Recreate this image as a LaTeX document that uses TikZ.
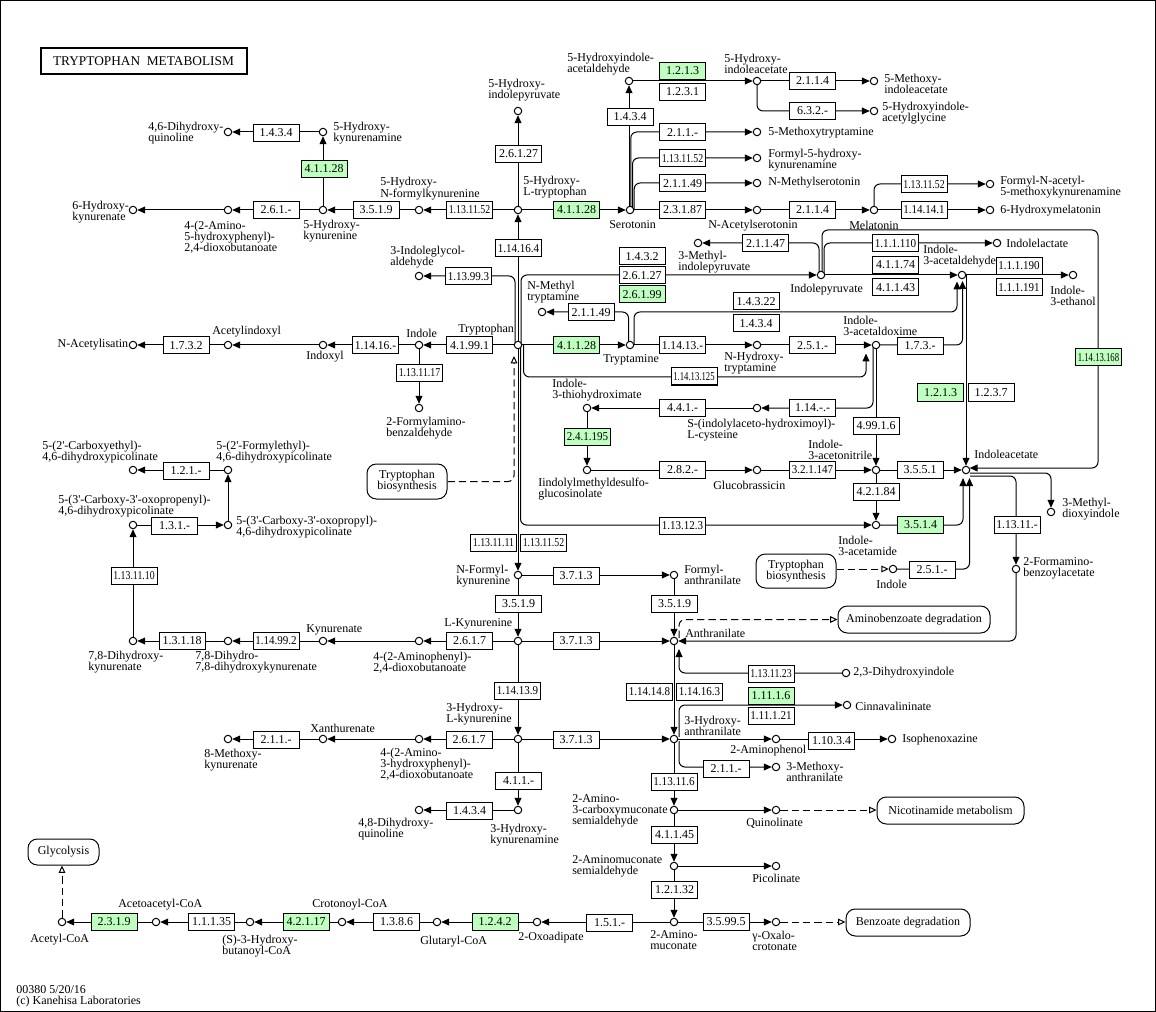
\documentclass[tikz,border=0pt]{standalone}
\usepackage{fontspec}
\setmainfont{Liberation Serif}
\usepackage{graphicx}
\usetikzlibrary{arrows.meta,calc}
\definecolor{kg}{RGB}{191,255,191}
\newcommand\lblfont{\fontsize{9}{8.25}\selectfont}
\newcommand\ecfit[1]{\sbox0{#1}\ifdim\wd0>31pt\pgfmathsetmacro\ecr{31/\the\wd0}\scalebox{\ecr}[1]{#1}\else#1\fi}
\newcommand\ecn[4][ecbox]{\node[#1] (#2) at (#3) {\ecfit{#4}};}
\pgfdeclarelayer{bg}
\pgfsetlayers{bg,main}
\tikzset{
 cpd/.style={circle,draw,fill=white,minimum size=5.6pt,inner sep=0pt,line width=0.75pt},
 ecbox/.style={draw,fill=white,minimum width=34.5pt,minimum height=12.75pt,inner sep=0pt,line width=0.75pt,font=\lblfont},
 ecg/.style={ecbox,fill=kg},
 lab/.style={inner sep=0pt,align=left,font=\lblfont},
 mapbox/.style={draw,fill=white,rounded corners=7pt,inner sep=0pt,align=center,font=\lblfont,line width=0.75pt},
 conn/.style={line width=0.75pt},
 arr/.style={conn,-{Triangle[length=6pt,width=5.2pt]}},
 rc/.style={rounded corners=4.5pt},
 dsh/.style={conn,dash pattern=on 5.5pt off 3pt,-{Triangle[open,length=5.5pt,width=5pt]}},
}
\begin{document}
\begin{tikzpicture}[x=0.75pt,y=-0.75pt]
\useasboundingbox (0,0) rectangle (1156,1012);
\draw[line width=0.75pt] (0.5,0.5) rectangle (1155.5,1011);
\node[draw,line width=1.5pt,minimum width=154.5pt,minimum height=19.5pt,inner sep=0pt,font=\fontsize{10}{12}\selectfont] (title) at (143.5,61) {TRYPTOPHAN\ \ METABOLISM};

% compounds
\foreach \n/\x/\y in {c46dhq/228/132,c5hkna/323/132,c6hk/133/210,c4a5h/228/210,c5hk/323/210,c5hnfk/419/210,c5htp/518/210,c5hip/518/111,cser/630/210,c5hiald/629/81,c5hiaa/757/81,c5mia/874/81,c5hiag/874/111,c5mt/757/132,cf5hk/757/158,cnms/757/183,cnas/757/210,cmel/874/210,cfnam/990/184,c6hm/990/210,c3mip/698/243,cipa/821/275,cila/997/243,ciald/962/275,cieth/1073/275,cigly/419/276,cnmt/542/312,ctrp/518/345,cindole/419/345,cindoxyl/323/345,cacind/228/345,cnai/133/345,cfab/419/408,ctam/630/345,cnht/757/345,ciaox/876/345,csic/757/408,cith/587/408,cimdg/587/470,cgb/757/470,cian/876/470,ciam/876/525,ciaa/966/470,cmdi/1051/512,cind2/893/569,cfba/1016/569,c2ce/133/470,c2fe/228/470,c3cop/133/525,c3copl/228/525,cnfk/518/575,cfa/674/575,clk/518/641,cant/674/641,c4a/419/641,ckyn/323/641,c78dh/228/641,c78dhk/133/641,chk/518/739,chaa/674/739,c4a3h/419/739,cxan/323/739,c8mk/228/739,chkna/518/810,c48dq/419/810,cdhi/846/673,ccin/847/705,camp/776/739,ciso/892/739,cman/776/767,cacms/674/810,cquin/776/810,cams/674/866,cpic/776/866,cam/674/922,cgoc/776/922,coxo/537/922,cglu/437/922,ccro/342/922,chbc/250/922,caac/156/922,cacoa/62/922}
  \node[cpd] (\n) at (\x,\y) {};

% maps
\node[mapbox,minimum width=60pt,minimum height=26.25pt] (mtrpbio1) at (407,481.5) {Tryptophan\\biosynthesis};
\node[mapbox,minimum width=60pt,minimum height=25.5pt] (mtrpbio2) at (796,571) {Tryptophan\\biosynthesis};
\node[mapbox,minimum width=114pt,minimum height=20.25pt] (mabd) at (914,619.5) {Aminobenzoate degradation};
\node[mapbox,minimum width=110.25pt,minimum height=20.25pt] (mnic) at (950.5,810.5) {Nicotinamide metabolism};
\node[mapbox,minimum width=93pt,minimum height=20.25pt] (mbenz) at (908,922.5) {Benzoate degradation};
\node[mapbox,minimum width=53.25pt,minimum height=19.5pt] (mgly) at (63.5,852) {Glycolysis};

\coordinate (loopTR) at (1098,230);
\coordinate (t312) at (957,312);

\begin{pgfonlayer}{bg}
\draw[arr] (c5hkna) -- (c46dhq);
\draw[arr] (c5hk) -- (c5hkna);
\draw[arr] (c5htp) -- (c5hnfk);
\draw[arr] (c5hnfk) -- (c5hk);
\draw[arr] (c5hk) -- (c4a5h);
\draw[arr] (c4a5h) -- (c6hk);
\draw[arr] (c5htp) -- (c5hip);
\draw[arr] (ctrp) -- (c5htp);
\draw[arr] (c5htp) -- (cser);
\draw[arr] ($(cser)+(-1,0)$) -- (c5hiald.south);
\draw[arr] (c5hiald) -- (c5hiaa);
\draw[arr] (c5hiaa) -- (c5mia);
\draw[arr,rc] (c5hiaa) |- (c5hiag);
\draw[arr,rc] ($(cser)+(0.8,0)$) |- (c5mt);
\draw[arr,rc] ($(cser)+(2.5,0)$) |- (cf5hk);
\draw[arr,rc] ($(cser)+(4.2,0)$) |- (cnms);
\draw[arr] (cser) -- (cnas);
\draw[arr] (cnas) -- (cmel);
\draw[arr,rc] (cmel) |- (cfnam);
\draw[arr] (cmel) -- (c6hm);
% indolepyruvate
\draw[arr,rc] ($(ctrp)+(3,0)$) |- (cipa);
\draw[arr,rc] ($(ctrp)+(-3,0)$) |- (cigly);
\draw[arr,rc] ($(cipa)+(-2,0)$) |- (c3mip);
\draw[arr,rc] ($(cipa)+(1,0)$) |- (loopTR) |- ($(ciaa)+(3.6,-2)$);
\draw[arr,rc] ($(cipa)+(3,0)$) |- (cila);
\draw[arr] (cipa) -- (ciald);
\draw[arr] (ciald) -- (cieth);
\draw[arr] ($(ciald)+(4,0)$) -- (ciaa.north);
\draw[arr,rc] ($(ctam)+(4,0)$) |- (t312) -- ($(ciald)+(-5,6.5)$);
\draw[arr,rc] (ciaox) -| ($(ciald)+(0.5,6)$);
\draw[arr,rc] ($(ctam)+(-1.5,0)$) |- (cnmt);
% tryptophan
\draw[arr] (ctrp) -- (cindole);
\draw[arr] (cindole) -- (cindoxyl);
\draw[arr] (cindoxyl) -- (cacind);
\draw[arr] (cacind) -- (cnai);
\draw[arr] (cindole) -- (cfab);
\draw[arr] (ctrp) -- (ctam);
\draw[arr] (ctam) -- (cnht);
\draw[arr] (cnht) -- (ciaox);
\draw[arr,rc] ($(ctrp)+(5.5,0)$) |- ($(ciaox)+(-10,32)$) -- ($(ciaox)+(-10,8.5)$);
\draw[arr,rc] ($(ctrp)+(2.5,0)$) |- (ciam);
\draw[arr] (ctrp) -- (cnfk);
\draw[dsh,rc] (mtrpbio1.east) -| ($(ctrp)+(-4,11)$);
% indole-3 compounds
\draw[arr,rc] ($(ciaox)+(-3,0)$) |- (csic);
\draw[arr] (ciaox) -- (cian);
\draw[arr] (csic) -- (cith);
\draw[arr] (cith) -- (cimdg);
\draw[arr] (cimdg) -- (cgb);
\draw[arr] (cgb) -- (cian);
\draw[arr] (cian) -- (ciaa);
\draw[arr] (cian) -- (ciam);
\draw[arr,rc] (ciam) -| ($(ciaa)+(-3,8)$);
\draw[arr,rc] (cind2) -| ($(ciaa)+(3.5,8)$);
\draw[dsh] (mtrpbio2.east |- cind2) -- (cind2);
\draw[arr,rc] ($(ciaa)+(4,3)$) -| (cmdi);
\draw[arr,rc] ($(ciaa)+(4,6)$) -| (cfba);
% kynurenine
\draw[arr] (cnfk) -- (cfa);
\draw[arr] (cnfk) -- (clk);
\draw[arr] (cfa) -- (cant);
\draw[arr] (clk) -- (cant);
\draw[arr] (clk) -- (c4a);
\draw[arr] (c4a) -- (ckyn);
\draw[arr] (ckyn) -- (c78dh);
\draw[arr] (c78dh) -- (c78dhk);
\draw[arr] (c78dhk) -- (c3cop);
\draw[arr] (c3cop) -- (c3copl);
\draw[arr] (c3copl) -- (c2fe);
\draw[arr] (c2fe) -- (c2ce);
\draw[arr] (clk) -- (chk);
\draw[arr] (chk) -- (chaa);
\draw[arr] (chk) -- (c4a3h);
\draw[arr] (c4a3h) -- (cxan);
\draw[arr] (cxan) -- (c8mk);
\draw[arr] (chk) -- (chkna);
\draw[arr] (chkna) -- (c48dq);
% anthranilate
\draw[dsh,rc] ($(cant)+(5,-3)$) |- (mabd.west);
\draw[arr,rc] (cfba) |- (cant);
\draw[arr,rc] (cdhi) -| ($(cant)+(5,8)$);
\draw[arr] (cant) -- (chaa);
\draw[arr,rc] ($(chaa)+(5,-2)$) |- (ccin);
\draw[arr] (chaa) -- (camp);
\draw[arr] (camp) -- (ciso);
\draw[arr,rc] ($(chaa)+(5,2)$) |- (cman);
\draw[arr] (chaa) -- (cacms);
\draw[arr] (cacms) -- (cquin);
\draw[dsh] (cquin) -- (mnic.west |- cquin);
\draw[arr] (cacms) -- (cams);
\draw[arr] (cams) -- (cpic);
\draw[arr] (cams) -- (cam);
\draw[arr] (cam) -- (cgoc);
\draw[dsh] (cgoc) -- (mbenz.west |- cgoc);
\draw[arr] (cam) -- (coxo);
\draw[arr] (coxo) -- (cglu);
\draw[arr] (cglu) -- (ccro);
\draw[arr] (ccro) -- (chbc);
\draw[arr] (chbc) -- (caac);
\draw[arr] (caac) -- (cacoa);
\draw[dsh] (cacoa) -- (mgly.south -| cacoa);
\end{pgfonlayer}

% enzymes
\ecn{e1434a}{276,133}{1.4.3.4}
\ecn[ecg]{e41128a}{324,169}{4.1.1.28}
\ecn{e261a}{276,210}{2.6.1.-}
\ecn{e3519a}{376,210}{3.5.1.9}
\ecn{e1131152a}{469.5,210}{1.13.11.52}
\ecn{e26127a}{518.5,154}{2.6.1.27}
\ecn{e114164}{518.5,248.5}{1.14.16.4}
\ecn[ecg]{e41128b}{576.5,210}{4.1.1.28}
\ecn{e1434b}{630,117}{1.4.3.4}
\ecn[ecg]{e1213a}{682.5,71}{1.2.1.3}
\ecn{e1231}{682.5,92}{1.2.3.1}
\ecn{e2114a}{812.5,81}{2.1.1.4}
\ecn{e632}{812.5,111}{6.3.2.-}
\ecn{e211a}{682.5,132.5}{2.1.1.-}
\ecn{e1131152b}{682.5,158.5}{1.13.11.52}
\ecn{e21149a}{682.5,183.5}{2.1.1.49}
\ecn{e23187}{682.5,210}{2.3.1.87}
\ecn{e2114b}{812.5,210}{2.1.1.4}
\ecn{e1131152c}{924,184.5}{1.13.11.52}
\ecn{e114141}{924,210}{1.14.14.1}
\ecn{e21147}{765.5,243.5}{2.1.1.47}
\ecn{e111110}{895.5,243.5}{1.1.1.110}
\ecn{e41174}{895.5,265}{4.1.1.74}
\ecn{e41143}{895.5,287.5}{4.1.1.43}
\ecn{e111190}{1019,266}{1.1.1.190}
\ecn{e111191}{1019,287.5}{1.1.1.191}
\ecn{e1432}{642,256.5}{1.4.3.2}
\ecn{e26127b}{642,275.5}{2.6.1.27}
\ecn[ecg]{e26199}{642,294.5}{2.6.1.99}
\ecn{e113993}{468.5,276.5}{1.13.99.3}
\ecn{e21149b}{591,312.5}{2.1.1.49}
\ecn{e14322}{756,301.5}{1.4.3.22}
\ecn{e1434c}{756,323.5}{1.4.3.4}
\ecn[ecg]{e41128c}{576.5,345.5}{4.1.1.28}
\ecn{e11413}{682.5,345.5}{1.14.13.-}
\ecn{e251a}{812.5,345.5}{2.5.1.-}
\ecn{e173}{920,346}{1.7.3.-}
\ecn{e1141312}{694,376.5}{1.14.13.125}
\ecn[ecg]{e1141316}{1098.5,357.5}{1.14.13.168}
\ecn[ecg]{e1213b}{940.5,392.5}{1.2.1.3}
\ecn{e1237}{991,392.5}{1.2.3.7}
\ecn{e114}{812.5,408}{1.14.-.-}
\ecn{e441}{682.5,408}{4.4.1.-}
\ecn[ecg]{e241195}{587.5,437}{2.4.1.195}
\ecn{e282}{682.5,470}{2.8.2.-}
\ecn{e321147}{812.5,470}{3.2.1.147}
\ecn{e49916}{876,425.5}{4.99.1.6}
\ecn{e3551}{920,470}{3.5.5.1}
\ecn{e42184}{876,492}{4.2.1.84}
\ecn{e13123}{682.5,526}{1.13.12.3}
\ecn[ecg]{e3514}{920.5,525}{3.5.1.4}
\ecn{e251b}{932,570}{2.5.1.-}
\ecn{e13111}{1017,525}{1.13.11.-}
\ecn{e41991}{469.5,345.5}{4.1.99.1}
\ecn{e11416}{375.5,345.5}{1.14.16.-}
\ecn{e1732}{186,345.5}{1.7.3.2}
\ecn{e131117}{419.5,373}{1.13.11.17}
\ecn{e131111}{493.5,543}{1.13.11.11}
\ecn{e1131152d}{543.5,543}{1.13.11.52}
\ecn{e3713a}{576,575.5}{3.7.1.3}
\ecn{e3519b}{518.5,603.5}{3.5.1.9}
\ecn{e3519c}{674.5,603.5}{3.5.1.9}
\ecn{e3713b}{576,641}{3.7.1.3}
\ecn{e2617a}{469.5,641}{2.6.1.7}
\ecn{e114992}{276,641}{1.14.99.2}
\ecn{e13118}{182,640.5}{1.3.1.18}
\ecn{e131110}{134,575.5}{1.13.11.10}
\ecn{e131}{174.5,525.5}{1.3.1.-}
\ecn{e121}{186,471}{1.2.1.-}
\ecn{e114139}{517.5,691}{1.14.13.9}
\ecn{e3713c}{576,740}{3.7.1.3}
\ecn{e2617b}{469,740}{2.6.1.7}
\ecn{e211b}{276,740}{2.1.1.-}
\ecn{e411}{518.5,780.5}{4.1.1.-}
\ecn{e1434d}{469.5,811}{1.4.3.4}
\ecn{e1131123}{771,673.5}{1.13.11.23}
\ecn{e114148}{649.5,692}{1.14.14.8}
\ecn{e114163}{699.5,692}{1.14.16.3}
\ecn[ecg]{e11116}{771,695.5}{1.11.1.6}
\ecn{e111121}{771,716}{1.11.1.21}
\ecn{e11034}{831.5,740.5}{1.10.3.4}
\ecn{e211c}{726,768.5}{2.1.1.-}
\ecn{e131116}{674,781.5}{1.13.11.6}
\ecn{e41145}{674.5,835}{4.1.1.45}
\ecn{e12132}{674.5,890}{1.2.1.32}
\ecn{e35995}{726,922}{3.5.99.5}
\ecn{e151}{609.5,922.5}{1.5.1.-}
\ecn[ecg]{e1242}{495,922}{1.2.4.2}
\ecn{e1386}{396.5,922}{1.3.8.6}
\ecn[ecg]{e42117}{306,922}{4.2.1.17}
\ecn{e11135}{211.5,922}{1.1.1.35}
\ecn[ecg]{e2319}{114,922}{2.3.1.9}

% labels
\node[lab,anchor=west] (t1) at (148,133) {4,6-Dihydroxy-\\quinoline};
\node[lab,anchor=west] (t2) at (333,133) {5-Hydroxy-\\kynurenamine};
\node[lab,anchor=west] (t3) at (72,212.5) {6-Hydroxy-\\kynurenate};
\node[lab,anchor=west] (t4) at (184,237) {4-(2-Amino-\\5-hydroxyphenyl)-\\2,4-dioxobutanoate};
\node[lab,anchor=west] (t5) at (303,231) {5-Hydroxy-\\kynurenine};
\node[lab,anchor=west] (t6) at (380,188.5) {5-Hydroxy-\\N-formylkynurenine};
\node[lab,anchor=west] (t7) at (523,187.5) {5-Hydroxy-\\L-tryptophan};
\node[lab,anchor=west] (t8) at (488,90.5) {5-Hydroxy-\\indolepyruvate};
\node[lab,anchor=west] (t9) at (609,225) {Serotonin};
\node[lab,anchor=west] (t10) at (567,64) {5-Hydroxyindole-\\acetaldehyde};
\node[lab,anchor=west] (t11) at (724,63.5) {5-Hydroxy-\\indoleacetate};
\node[lab,anchor=west] (t12) at (884,84) {5-Methoxy-\\indoleacetate};
\node[lab,anchor=west] (t13) at (882,113.5) {5-Hydroxyindole-\\acetylglycine};
\node[lab,anchor=west] (t14) at (768,133) {5-Methoxytryptamine};
\node[lab,anchor=west] (t15) at (768,160.5) {Formyl-5-hydroxy-\\kynurenamine};
\node[lab,anchor=west] (t16) at (768,183) {N-Methylserotonin};
\node[lab,anchor=west] (t17) at (708,226) {N-Acetylserotonin};
\node[lab,anchor=west] (t18) at (849,225) {Melatonin};
\node[lab,anchor=west] (t19) at (1000,187) {Formyl-N-acetyl-\\5-methoxykynurenamine};
\node[lab,anchor=west] (t20) at (1000,211) {6-Hydroxymelatonin};
\node[lab,anchor=west] (t21) at (678,262.5) {3-Methyl-\\indolepyruvate};
\node[lab,anchor=west] (t22) at (790,290) {Indolepyruvate};
\node[lab,anchor=west] (t23) at (1006,243) {Indolelactate};
\node[lab,anchor=west] (t24) at (923,256) {Indole-\\3-acetaldehyde};
\node[lab,anchor=west] (t25) at (1050,296) {Indole-\\3-ethanol};
\node[lab,anchor=west] (t26) at (390,257) {3-Indoleglycol-\\aldehyde};
\node[lab,anchor=west] (t27) at (527,292.5) {N-Methyl\\tryptamine};
\node[lab,anchor=west] (t28) at (458,330) {Tryptophan};
\node[lab,anchor=west] (t29) at (406,333) {Indole};
\node[lab,anchor=west] (t30) at (212,332) {Acetylindoxyl};
\node[lab,anchor=east] (t31) at (128.5,345) {N-Acetylisatin};
\node[lab,anchor=west] (t32) at (306,357) {Indoxyl};
\node[lab,anchor=west] (t33) at (386,428.5) {2-Formylamino-\\benzaldehyde};
\node[lab,anchor=west] (t34) at (603,360) {Tryptamine};
\node[lab,anchor=west] (t35) at (724,363.5) {N-Hydroxy-\\tryptamine};
\node[lab,anchor=west] (t36) at (843,326) {Indole-\\3-acetaldoxime};
\node[lab,anchor=west] (t37) at (552,390.5) {Indole-\\3-thiohydroximate};
\node[lab,anchor=west] (t38) at (687,430.5) {S-(indolylaceto-hydroximoyl)-\\L-cysteine};
\node[lab,anchor=west] (t39) at (538,489) {Iindolylmethyldesulfo-\\glucosinolate};
\node[lab,anchor=west] (t40) at (713,485) {Glucobrassicin};
\node[lab,anchor=west] (t41) at (808,450) {Indole-\\3-acetonitrile};
\node[lab,anchor=west] (t42) at (838,545.5) {Indole-\\3-acetamide};
\node[lab,anchor=west] (t43) at (974,454) {Indoleacetate};
\node[lab,anchor=west] (t44) at (1062,509.5) {3-Methyl-\\dioxyindole};
\node[lab,anchor=west] (t45) at (1023,568.5) {2-Formamino-\\benzoylacetate};
\node[lab,anchor=west] (t46) at (876,584) {Indole};
\node[lab,anchor=west] (t47) at (42,452.5) {5-(2\textquotesingle-Carboxyethyl)-\\4,6-dihydroxypicolinate};
\node[lab,anchor=west] (t48) at (216,452.5) {5-(2\textquotesingle-Formylethyl)-\\4,6-dihydroxypicolinate};
\node[lab,anchor=west] (t49) at (58,506) {5-(3\textquotesingle-Carboxy-3\textquotesingle-oxopropenyl)-\\4,6-dihydroxypicolinate};
\node[lab,anchor=west] (t50) at (236,527) {5-(3\textquotesingle-Carboxy-3\textquotesingle-oxopropyl)-\\4,6-dihydroxypicolinate};
\node[lab,anchor=west] (t51) at (456,576) {N-Formyl-\\kynurenine};
\node[lab,anchor=west] (t52) at (684,575) {Formyl-\\anthranilate};
\node[lab,anchor=west] (t53) at (444,624) {L-Kynurenine};
\node[lab,anchor=west] (t54) at (685,633) {Anthranilate};
\node[lab,anchor=west] (t55) at (306,630) {Kynurenate};
\node[lab,anchor=west] (t56) at (373,663) {4-(2-Aminophenyl)-\\2,4-dioxobutanoate};
\node[lab,anchor=west] (t57) at (195,662.5) {7,8-Dihydro-\\7,8-dihydroxykynurenate};
\node[lab,anchor=west] (t58) at (88,662.5) {7,8-Dihydroxy-\\kynurenate};
\node[lab,anchor=west] (t59) at (853,673) {2,3-Dihydroxyindole};
\node[lab,anchor=west] (t60) at (855,706) {Cinnavalininate};
\node[lab,anchor=west] (t61) at (446,714.5) {3-Hydroxy-\\L-kynurenine};
\node[lab,anchor=west] (t62) at (684,726) {3-Hydroxy-\\anthranilate};
\node[lab,anchor=west] (t63) at (310,728) {Xanthurenate};
\node[lab,anchor=west] (t64) at (380,764) {4-(2-Amino-\\3-hydroxyphenyl)-\\2,4-dioxobutanoate};
\node[lab,anchor=west] (t65) at (204,760) {8-Methoxy-\\kynurenate};
\node[lab,anchor=west] (t66) at (730,751) {2-Aminophenol};
\node[lab,anchor=west] (t67) at (902,740) {Isophenoxazine};
\node[lab,anchor=west] (t68) at (786,772) {3-Methoxy-\\anthranilate};
\node[lab,anchor=west] (t69) at (490,835) {3-Hydroxy-\\kynurenamine};
\node[lab,anchor=west] (t70) at (358,829.5) {4,8-Dihydroxy-\\quinoline};
\node[lab,anchor=west] (t71) at (572,811) {2-Amino-\\3-carboxymuconate\\semialdehyde};
\node[lab,anchor=west] (t72) at (746,823) {Quinolinate};
\node[lab,anchor=west] (t73) at (572,866.5) {2-Aminomuconate\\semialdehyde};
\node[lab,anchor=west] (t74) at (752,878) {Picolinate};
\node[lab,anchor=west] (t75) at (650,940.5) {2-Amino-\\muconate};
\node[lab,anchor=west] (t76) at (752,940.5) {γ-Oxalo-\\crotonate};
\node[lab,anchor=west] (t77) at (518,938) {2-Oxoadipate};
\node[lab,anchor=west] (t78) at (420,942) {Glutaryl-CoA};
\node[lab,anchor=west] (t79) at (312,905) {Crotonoyl-CoA};
\node[lab,anchor=west] (t80) at (222,946) {(S)-3-Hydroxy-\\butanoyl-CoA};
\node[lab,anchor=west] (t81) at (118,905) {Acetoacetyl-CoA};
\node[lab,anchor=west] (t82) at (30,940) {Acetyl-CoA};
\node[lab,anchor=west] (t83) at (16,996.5) {00380 5/20/16\\(c) Kanehisa Laboratories};
\end{tikzpicture}
\end{document}
